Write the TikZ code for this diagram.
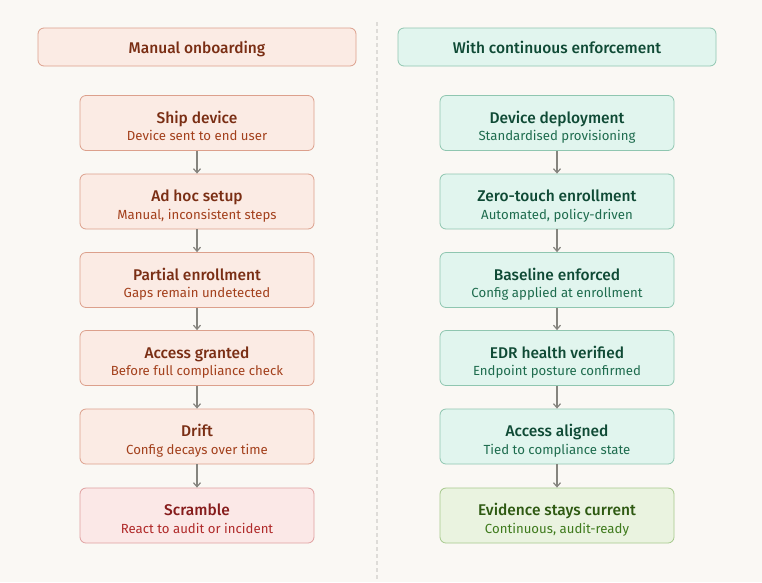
\documentclass[tikz,border=0pt]{standalone}
\usepackage{fontspec}
\setmainfont{Fira Sans}[BoldFont={Fira Sans Medium}]
\usetikzlibrary{arrows.meta}
\definecolor{bg}{HTML}{FAF8F4}
\definecolor{lfill}{HTML}{FBEBE4}
\definecolor{ldraw}{HTML}{DCA08C}
\definecolor{ltitle}{HTML}{7A2E14}
\definecolor{lsub}{HTML}{A3401C}
\definecolor{sfill}{HTML}{FBE8E7}
\definecolor{sdraw}{HTML}{E0A0A0}
\definecolor{stitle}{HTML}{861C1C}
\definecolor{ssub}{HTML}{B02A2A}
\definecolor{rfill}{HTML}{E1F5EE}
\definecolor{rdraw}{HTML}{8FC6B0}
\definecolor{rtitle}{HTML}{0F4A35}
\definecolor{rsub}{HTML}{1E6C4E}
\definecolor{gfill}{HTML}{EAF3E0}
\definecolor{gdraw}{HTML}{A6C98C}
\definecolor{gtitle}{HTML}{2E5912}
\definecolor{gsub}{HTML}{3E7A1C}
\definecolor{arr}{HTML}{85847E}
\definecolor{divc}{HTML}{DEDCD8}
\tikzset{
  box/.style={rounded corners=6pt, line width=0.8pt, minimum width=234pt, minimum height=55pt, inner sep=0pt},
  head/.style={box, minimum width=318pt, minimum height=38pt},
  lbox/.style={box, fill=lfill, draw=ldraw},
  sbox/.style={box, fill=sfill, draw=sdraw},
  rbox/.style={box, fill=rfill, draw=rdraw},
  gbox/.style={box, fill=gfill, draw=gdraw},
  ttl/.style={anchor=base, inner sep=0pt, font=\fontsize{15.5}{18}\selectfont\bfseries},
  sub/.style={anchor=base, inner sep=0pt, font=\fontsize{13.2}{15}\selectfont},
  flow/.style={draw=arr, line width=1.3pt, -{Straight Barb[length=4pt,width=7pt,line width=1.2pt]}},
}
% #1 name, #2 box style, #3 x, #4 y, #5 title colour, #6 title, #7 sub colour, #8 sub
\newcommand{\stepnode}[8]{%
  \node[#2] (#1) at (#3,#4) {};
  \node[ttl, text=#5] (#1t) at (#3,#4+0.3) {#6};
  \node[sub, text=#7] (#1s) at (#3,#4+17.7) {#8};
}
\begin{document}
\begin{tikzpicture}[x=1pt,y=-1pt]
\fill[bg] (0,0) rectangle (762,582);
\useasboundingbox (0,0) rectangle (762,582);
\coordinate (d1) at (377,22);
\coordinate (d2) at (377,580);
\draw[divc, line width=1.2pt, dash pattern=on 4pt off 3pt] (d1) -- (d2);

\node[head, fill=lfill, draw=ldraw] (lh) at (197,47) {};
\node[ttl, text=ltitle] (lht) at (197,53) {Manual onboarding};
\node[head, fill=rfill, draw=rdraw] (rh) at (557,47) {};
\node[ttl, text=rtitle] (rht) at (557,53) {With continuous enforcement};

\stepnode{l1}{lbox}{197}{123}{ltitle}{Ship device}{lsub}{Device sent to end user}
\stepnode{l2}{lbox}{197}{201.5}{ltitle}{Ad hoc setup}{lsub}{Manual, inconsistent steps}
\stepnode{l3}{lbox}{197}{280}{ltitle}{Partial enrollment}{lsub}{Gaps remain undetected}
\stepnode{l4}{lbox}{197}{358}{ltitle}{Access granted}{lsub}{Before full compliance check}
\stepnode{l5}{lbox}{197}{436.5}{ltitle}{Drift}{lsub}{Config decays over time}
\stepnode{l6}{sbox}{197}{515.5}{stitle}{Scramble}{ssub}{React to audit or incident}

\stepnode{r1}{rbox}{557}{123}{rtitle}{Device deployment}{rsub}{Standardised provisioning}
\stepnode{r2}{rbox}{557}{201.5}{rtitle}{Zero-touch enrollment}{rsub}{Automated, policy-driven}
\stepnode{r3}{rbox}{557}{280}{rtitle}{Baseline enforced}{rsub}{Config applied at enrollment}
\stepnode{r4}{rbox}{557}{358}{rtitle}{EDR health verified}{rsub}{Endpoint posture confirmed}
\stepnode{r5}{rbox}{557}{436.5}{rtitle}{Access aligned}{rsub}{Tied to compliance state}
\stepnode{r6}{gbox}{557}{515.5}{gtitle}{Evidence stays current}{gsub}{Continuous, audit-ready}

\foreach \a/\b in {l1/l2,l2/l3,l3/l4,l4/l5,l5/l6,r1/r2,r2/r3,r3/r4,r4/r5,r5/r6}
  \draw[flow] (\a.south) -- (\b.north);
\end{tikzpicture}
\end{document}
